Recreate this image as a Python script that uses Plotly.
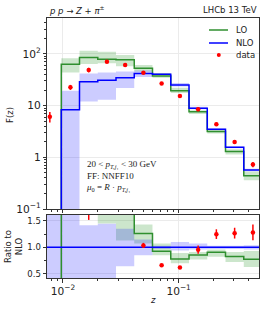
import numpy as np
import plotly.graph_objects as go

# ---- data ----
edges = [0.00672, 0.00967, 0.0139, 0.0200, 0.02875, 0.04134, 0.05944,
         0.08553, 0.1230, 0.1769, 0.2543, 0.3659, 0.5261]
z_data = [0.0077, 0.0116, 0.0167, 0.0240, 0.0345, 0.0496, 0.0713,
          0.1026, 0.1475, 0.2120, 0.3050, 0.4390]

lo = [0, 63, 85, 79, 77, 53, 37.5, 19.5, 7.6, 3.17, 1.30, 0.44]
lo_dn = [0, 44, 64, 66, 58, 46, 34.5, 17.5, 6.9, 2.90, 1.13, 0.36]
lo_up = [0, 83, 116, 110, 95, 61, 43, 22.3, 8.1, 3.35, 1.43, 0.53]

nlo = [0, 8.3, 29, 31, 34.5, 42, 40.5, 25, 8.9, 3.5, 1.57, 0.57]
nlo_dn = [0, 0.01, 12, 13, 22, 36, 39, 23.5, 8.5, 3.35, 1.50, 0.54]
nlo_up = [0, 19.5, 42, 44, 46, 48, 42, 27.5, 9.5, 3.6, 1.62, 0.60]

data = [6.1, 22.7, 49, 71, 61, 43.5, 26.7, 15.4, 8.5, 4.37, 1.99, 0.73]
data_err = [1.4, 2.5, 5, 3, 2.5, 2, 1, 0.5, 0.7, 0.32, 0.16, 0.085]

# ratio-panel bands as drawn
r_nlo_dn = [0.0, 0.0, 0.30, 0.30, 0.64, 0.85, 0.97, 0.94, 0.96, 0.97, 0.97, 0.96]
r_nlo_up = [3.0, 3.0, 1.415, 1.447, 1.35, 1.145, 1.03, 1.10, 1.07, 1.03, 1.03, 1.04]
r_lo_dn = [0.0, 5.3, 2.2, 1.45, 1.13, 1.07, 0.85, 0.70, 0.77, 0.82, 0.72, 0.63]
r_lo_up = [0.0, 10.0, 4.0, 3.0, 3.0, 1.43, 1.07, 0.89, 0.91, 0.96, 0.91, 0.93]

legend_labels = ["LO", "NLO", "data"]

GREEN = "#2f8f2f"
BLUE = "#0000ff"
GREEN_F = "rgba(0,128,0,0.2)"
BLUE_F = "rgba(0,0,255,0.2)"
FONT = "DejaVu Sans"
TXT = "#222"

lo_a = np.array(lo, float)
nlo_a = np.array(nlo, float)
data_a = np.array(data, float)
err_a = np.array(data_err, float)


def band(dn, up):
    xs, ys = [], []
    for i in range(len(dn)):
        if not up[i] > dn[i]:
            continue
        a, b = edges[i], edges[i + 1]
        xs += [a, b, b, a, a, None]
        ys += [dn[i], dn[i], up[i], up[i], dn[i], None]
    return xs, ys


def step_y(vals):
    v = list(vals)
    return v + [v[-1]]


floor = 1e-4
fig = go.Figure()

# top panel bands
for dn, up, col in [(lo_dn, lo_up, GREEN_F), (nlo_dn, nlo_up, BLUE_F)]:
    xs, ys = band(dn, up)
    fig.add_trace(go.Scatter(x=xs, y=ys, fill="toself", fillcolor=col, mode="none",
                             showlegend=False, hoverinfo="skip", xaxis="x", yaxis="y"))
# top panel lines
fig.add_trace(go.Scatter(x=edges, y=step_y(np.maximum(lo_a, floor)), mode="lines",
                         line=dict(color=GREEN, width=1.5, shape="hv"), name="LO",
                         showlegend=False, xaxis="x", yaxis="y"))
fig.add_trace(go.Scatter(x=edges, y=step_y(np.maximum(nlo_a, floor)), mode="lines",
                         line=dict(color=BLUE, width=1.5, shape="hv"), name="NLO",
                         showlegend=False, xaxis="x", yaxis="y"))
fig.add_trace(go.Scatter(x=z_data, y=data, mode="markers", name="data", showlegend=False,
                         marker=dict(color="red", size=4.5),
                         error_y=dict(type="data", array=data_err, color="red",
                                      thickness=1.5, width=0),
                         xaxis="x", yaxis="y"))

# ratio panel
for dn, up, col in [(r_lo_dn, r_lo_up, GREEN_F), (r_nlo_dn, r_nlo_up, BLUE_F)]:
    xs, ys = band(dn, up)
    fig.add_trace(go.Scatter(x=xs, y=ys, fill="toself", fillcolor=col, mode="none",
                             showlegend=False, hoverinfo="skip", xaxis="x2", yaxis="y2"))
with np.errstate(divide="ignore", invalid="ignore"):
    r_lo = np.where(nlo_a > 0, lo_a / np.where(nlo_a > 0, nlo_a, 1), 0.0)
    r_data = data_a / np.where(nlo_a > 0, nlo_a, np.nan)
    r_err = err_a / np.where(nlo_a > 0, nlo_a, np.nan)
r_nlo = np.ones_like(nlo_a)
fig.add_trace(go.Scatter(x=edges, y=step_y(r_lo), mode="lines",
                         line=dict(color=GREEN, width=1.5, shape="hv"), showlegend=False,
                         xaxis="x2", yaxis="y2"))
fig.add_trace(go.Scatter(x=edges, y=step_y(r_nlo), mode="lines",
                         line=dict(color=BLUE, width=1.5, shape="hv"), showlegend=False,
                         xaxis="x2", yaxis="y2"))
fig.add_trace(go.Scatter(x=z_data, y=r_data, mode="markers", showlegend=False,
                         marker=dict(color="red", size=4.5),
                         error_y=dict(type="data", array=r_err, color="red",
                                      thickness=1.5, width=0),
                         xaxis="x2", yaxis="y2"))

xr = [-2.138, -0.305]
axcommon = dict(showline=True, linecolor="#333", linewidth=1, mirror=True,
                ticks="outside", ticklen=3.5, tickcolor="#333",
                gridcolor="#ebebeb", gridwidth=1, zeroline=False,
                tickfont=dict(family=FONT, size=8.5, color=TXT))
minor_log = dict(ticks="outside", ticklen=2, tickcolor="#333", showgrid=False)

fig.update_layout(
    width=267, height=312,
    margin=dict(l=47, r=8, t=18, b=34),
    paper_bgcolor="white", plot_bgcolor="white",
    font=dict(family=FONT, size=8.5, color=TXT),
    xaxis=dict(type="log", range=xr, domain=[0, 1], anchor="y", showticklabels=False,
               dtick=1, minor=minor_log, **axcommon),
    yaxis=dict(type="log", range=[-1, 2.696], domain=[0.2654, 1], anchor="x",
               dtick=1, exponentformat="power", minor=minor_log, **axcommon),
    xaxis2=dict(type="log", range=xr, domain=[0, 1], anchor="y2", matches="x",
                dtick=1, exponentformat="power", minor=minor_log, **axcommon),
    yaxis2=dict(range=[0.42, 1.61], domain=[0, 0.2423], anchor="x2",
                tickvals=[0.5, 1.0, 1.5], ticktext=["0.5", "1.0", "1.5"],
                minor=dict(ticks="outside", ticklen=2, tickcolor="#333",
                           tickvals=[0.75, 1.25], showgrid=False), **axcommon),
    showlegend=False,
)


def px_x(p):
    return (p - 47) / 212.0


def px_y(p):
    return (278 - p) / 260.0


ann = [
    dict(x=0, y=px_y(10), xanchor="left", yanchor="middle",
         text="<i>p p</i> → <i>Z</i> + <i>π</i><sup>±</sup>", font=dict(size=8.5)),
    dict(x=1, y=px_y(10), xanchor="right", yanchor="middle", text="LHCb 13 TeV",
         font=dict(size=8.5)),
    dict(x=px_x(10), y=px_y(115), xanchor="center", yanchor="middle", text="F(z)",
         textangle=-90, font=dict(size=8.5)),
    dict(x=px_x(13), y=px_y(247), xanchor="center", yanchor="middle",
         text="Ratio to<br>NLO", textangle=-90, font=dict(size=8.5)),
    dict(x=px_x(153), y=px_y(300), xanchor="center", yanchor="middle", text="<i>z</i>",
         font=dict(size=8.5)),
    dict(x=px_x(84), y=px_y(157), xanchor="left", yanchor="top", align="left",
         text="20 &lt; <i>p</i><sub><i>T,j</i>₁</sub> &lt; 30 GeV<br>FF: NNFF10<br>"
              "<i>μ</i><sub>0</sub> = <i>R</i> · <i>p</i><sub><i>T,j</i>₁</sub>",
         font=dict(family="Liberation Serif", size=9)),
]
# legend (drawn by hand for matplotlib-like compact spacing)
leg_y = [30, 43, 55]
for lab, yy in zip(legend_labels, leg_y):
    ann.append(dict(x=px_x(234), y=px_y(yy), xanchor="left", yanchor="middle",
                    text=lab, font=dict(size=8.5)))
for a in ann:
    a.update(xref="paper", yref="paper", showarrow=False)

shapes = [
    dict(type="line", xref="paper", yref="paper", x0=px_x(209), x1=px_x(228),
         y0=px_y(leg_y[0]), y1=px_y(leg_y[0]), line=dict(color=GREEN, width=1.5)),
    dict(type="line", xref="paper", yref="paper", x0=px_x(209), x1=px_x(228),
         y0=px_y(leg_y[1]), y1=px_y(leg_y[1]), line=dict(color=BLUE, width=1.5)),
    dict(type="circle", xref="paper", yref="paper", x0=px_x(216.8), x1=px_x(220.8),
         y0=px_y(leg_y[2] + 2), y1=px_y(leg_y[2] - 2),
         fillcolor="red", line=dict(color="red", width=0)),
]
fig.update_layout(annotations=ann, shapes=shapes)

# remove the page's default 8px body margin so the figure fills the window
fig.write_html("out.html",
               config={"displayModeBar": False, "staticPlot": True},
               post_script="document.body.style.margin='0';"
                           "document.body.style.overflow='hidden';")
